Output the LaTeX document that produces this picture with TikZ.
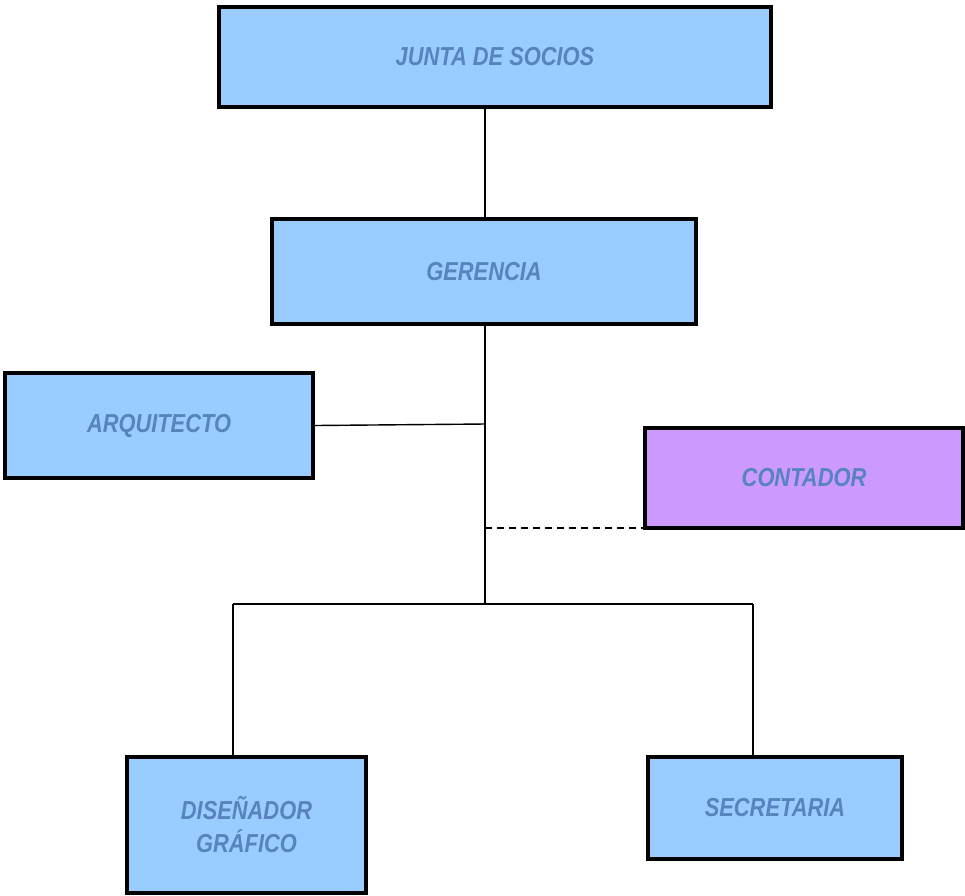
\documentclass[tikz,border=0pt]{standalone}
\usepackage{fontspec}
\setmainfont{Liberation Sans}[FakeStretch=0.84]
\usepackage{xcolor}
\usetikzlibrary{positioning}

\definecolor{boxblue}{HTML}{99CCFF}
\definecolor{boxlilac}{HTML}{CC99FF}
\definecolor{labelblue}{HTML}{5784BE}

\begin{document}
\begin{tikzpicture}[x=1pt, y=-1pt]
\tikzstyle{post} = [rectangle, draw=black, line width=3.8pt, fill=boxblue, text=labelblue, align=center, font=\fontsize{26}{33}\selectfont\bfseries\itshape]
\tikzstyle{link} = [line width=1.4pt]

\useasboundingbox (0,0) rectangle (965,895);

\node (junta) [post, minimum width=552pt, minimum height=100pt] at (495,57) {JUNTA DE SOCIOS};
\node (gerencia) [post, minimum width=424pt, minimum height=105pt] at (484,271.5) {GERENCIA};
\node (arquitecto) [post, minimum width=308pt, minimum height=105pt] at (159,425.5) {ARQUITECTO};
\node (contador) [post, fill=boxlilac, minimum width=318pt, minimum height=100pt] at (804,478) {CONTADOR};
\node (disenador) [post, minimum width=239pt, minimum height=136pt] at (246.5,825) {DISEÑADOR\\GRÁFICO};
\node (secretaria) [post, minimum width=254pt, minimum height=102pt] at (775,808) {SECRETARIA};

\coordinate (tronco) at (485,604);
\coordinate (ramaizq) at (233,604);
\coordinate (ramader) at (753,604);
\coordinate (cruce) at (485,424);
\coordinate (apoyo) at (485,528);

\draw [link] (gerencia.north -| tronco) -- (junta.south -| tronco);
\draw [link] (gerencia.south -| tronco) -- (tronco);
\draw [link] (arquitecto.east) -- (cruce);
\draw [link, dashed, dash pattern=on 7pt off 5pt] (apoyo) -- (apoyo -| contador.west);
\draw [link] (ramaizq) -- (ramader);
\draw [link] (ramaizq) -- (disenador.north -| ramaizq);
\draw [link] (ramader) -- (secretaria.north -| ramader);
\end{tikzpicture}
\end{document}
